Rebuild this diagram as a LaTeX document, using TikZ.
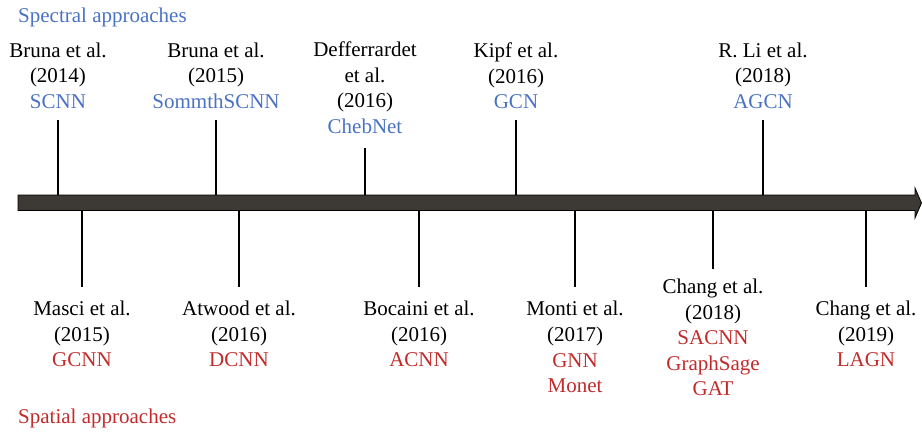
\documentclass[tikz,border=0pt]{standalone}
\usepackage{fontspec}
\setmainfont{Liberation Serif}
\usepackage{tikz}
\definecolor{specblue}{HTML}{4A72C4}
\definecolor{spatred}{HTML}{C22B2B}
\definecolor{bargray}{HTML}{3D3935}

\begin{document}
\begin{tikzpicture}[x=1pt, y=-1pt, font=\fontsize{21}{25.6}\selectfont,
    lbl/.style={align=center, anchor=north, inner sep=0pt},
    tick/.style={line width=2.8pt},
    spec/.style={text=specblue},
    spat/.style={text=spatred}]
            \useasboundingbox (0,0) rectangle (922,432);
            \coordinate (b1) at (58,203);  \coordinate (e1) at (58,120);
            \coordinate (b2) at (216,203); \coordinate (e2) at (216,120);
            \coordinate (b3) at (365,203); \coordinate (e3) at (365,148);
            \coordinate (b4) at (516,203); \coordinate (e4) at (516,120);
            \coordinate (b5) at (763,203); \coordinate (e5) at (763,120);
            \coordinate (b6) at (82,203);  \coordinate (e6) at (82,287);
            \coordinate (b7) at (239,203); \coordinate (e7) at (239,287);
            \coordinate (b8) at (419,203); \coordinate (e8) at (419,287);
            \coordinate (b9) at (575,203); \coordinate (e9) at (575,287);
            \coordinate (b10) at (713,203); \coordinate (e10) at (713,269);
            \coordinate (b11) at (866,203); \coordinate (e11) at (866,287);
            \draw[tick] (b1) -- (e1) (b2) -- (e2) (b3) -- (e3) (b4) -- (e4) (b5) -- (e5);
            \draw[tick] (b6) -- (e6) (b7) -- (e7) (b8) -- (e8) (b9) -- (e9) (b10) -- (e10) (b11) -- (e11);
            \draw[fill=bargray, line width=0.8pt] (18,195) -- (915,195) -- (915,188) -- (921.5,203) -- (915,218) -- (915,210.5) -- (18,210.5) -- cycle;
            \node[spec, anchor=base west, inner sep=0pt] (spectral) at (18,22) {Spectral approaches};
            \node[spat, anchor=base west, inner sep=0pt] (spatial) at (18,423) {Spatial approaches};
            \node[lbl] (bruna14) at (58,42.6) {Bruna et al.\\(2014)\\\textcolor{specblue}{SCNN}};
            \node[lbl] (bruna15) at (216,42.6) {Bruna et al.\\(2015)\\\textcolor{specblue}{SommthSCNN}};
            \node[lbl] (deff16) at (365,41.8) {Defferrardet\\et al.\\(2016)\\\textcolor{specblue}{ChebNet}};
            \node[lbl] (kipf16) at (516,42.6) {Kipf et al.\\(2016)\\\textcolor{specblue}{GCN}};
            \node[lbl] (li18) at (763,42.6) {R. Li et al.\\(2018)\\\textcolor{specblue}{AGCN}};
            \node[lbl] (masci15) at (82,300.7) {Masci et al.\\(2015)\\\textcolor{spatred}{GCNN}};
            \node[lbl] (atwood16) at (239,300.7) {Atwood et al.\\(2016)\\\textcolor{spatred}{DCNN}};
            \node[lbl] (bocaini16) at (419,300.7) {Bocaini et al.\\(2016)\\\textcolor{spatred}{ACNN}};
            \node[lbl] (monti17) at (575,301.2) {Monti et al.\\(2017)\\\textcolor{spatred}{GNN}\\\textcolor{spatred}{Monet}};
            \node[lbl] (chang18) at (713,278.7) {Chang et al.\\(2018)\\\textcolor{spatred}{SACNN}\\\textcolor{spatred}{GraphSage}\\\textcolor{spatred}{GAT}};
            \node[lbl] (chang19) at (866,300.7) {Chang et al.\\(2019)\\\textcolor{spatred}{LAGN}};
\end{tikzpicture}
\end{document}
